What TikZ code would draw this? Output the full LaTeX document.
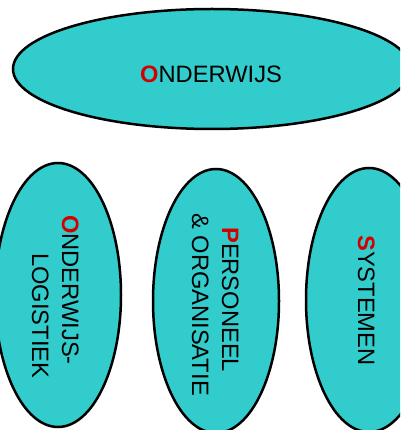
\documentclass[tikz,border=0pt]{standalone}
\usepackage{fontspec}
\setmainfont{Liberation Sans}
\usetikzlibrary{shapes.geometric}
\definecolor{fillc}{RGB}{51,204,204}
\definecolor{redc}{RGB}{210,0,0}
\newcommand{\R}[1]{\textcolor{redc}{\textbf{#1}}}
\begin{document}
\begin{tikzpicture}[x=1pt,y=-1pt,
  blob/.style={ellipse,draw=black,line width=2.5pt,fill=fillc,inner sep=0pt},
  lbl/.style={inner sep=0pt,anchor=base west,font=\fontsize{23.7}{28}\selectfont}]
\useasboundingbox (0,0) rectangle (400,430);
\clip (0,0) rectangle (400,430);
\fill[white] (0,0) rectangle (400,430);
\node[blob,minimum width=398pt,minimum height=120pt] (top) at (212,69) {};
\node[blob,minimum width=126pt,minimum height=264pt] (left) at (58,295) {};
\node[blob,minimum width=126pt,minimum height=264pt] (mid) at (216,301) {};
\node[blob,minimum width=126pt,minimum height=264pt] (right) at (369,300) {};
\node[lbl] (ttop) at (140,83) {\R{O}NDERWIJS};
\node[lbl,rotate=-90] (tl1) at (62,215) {\R{O}NDERWIJS-};
\node[lbl,rotate=-90] (tl2) at (32,253) {LOGISTIEK};
\node[lbl,rotate=-90] (tm1) at (222,227) {\R{P}ERSONEEL};
\node[lbl,rotate=-90] (tm2) at (192,213) {\& ORGANISATIE};
\node[lbl,rotate=-90] (tr1) at (358,235) {\R{S}YSTEMEN};
\end{tikzpicture}
\end{document}
